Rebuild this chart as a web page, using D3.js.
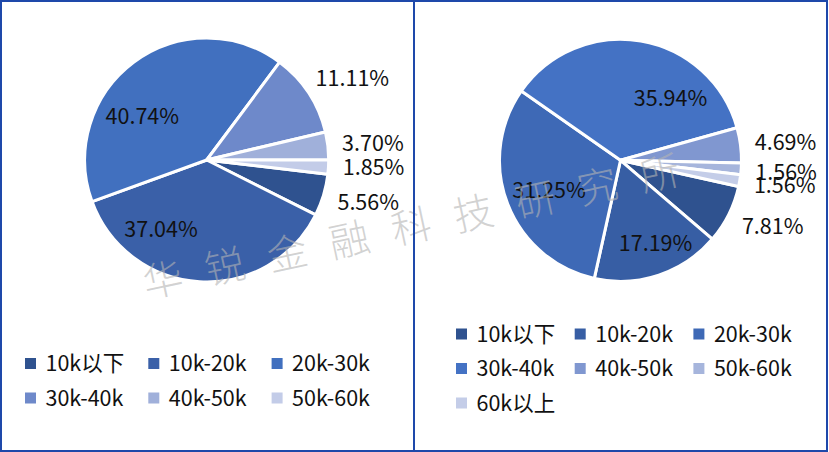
<!DOCTYPE html>
<html>
<head>
<meta charset="utf-8">
<script src="https://cdn.jsdelivr.net/npm/d3@7"></script>
<style>
  html, body { margin: 0; padding: 0; background: #fff; }
  svg { display: block; }
  text { font-family: "Noto Sans CJK SC", "Noto Sans", sans-serif; }
</style>
</head>
<body>
<svg id="chart" width="829" height="452"></svg>
<script>
// ---------- data ----------
const leftCategories = ["10k以下", "10k-20k", "20k-30k", "30k-40k", "40k-50k", "50k-60k"];
const leftValues = [5.56, 37.04, 40.74, 11.11, 3.70, 1.85];
const leftColors = ["#2f528f", "#3a60a8", "#4170bf", "#6e89ca", "#a0b0da", "#c3cce8"];

const rightCategories = ["10k以下", "10k-20k", "20k-30k", "30k-40k", "40k-50k", "50k-60k", "60k以上"];
const rightValues = [7.81, 17.19, 31.25, 35.94, 4.69, 1.56, 1.56];
const rightColors = ["#2f528f", "#375ea4", "#3e69b6", "#4472c4", "#8097d0", "#a6b5dc", "#c4cde8"];

const watermarkChars = ["华", "锐", "金", "融", "科", "技", "研", "究", "所"];

// ---------- layout (styles / placement only) ----------
const svg = d3.select("#chart");
const frameColor = "#1e48aa";

const panels = [
  {
    categories: leftCategories, values: leftValues, colors: leftColors,
    cx: 206.7, cy: 160, r: 122, startDeg: 96.7,
    inside: [false, true, true, false, false, false],
    shiftDeg: [-2, 30, -19, 4, 1, -1],
    insideR: [0, 83, 78, 0, 0, 0],
    legend: { x0: 25, colW: 123.3, y0: 363.5, rowH: 34.5, cols: 3 }
  },
  {
    categories: rightCategories, values: rightValues, colors: rightColors,
    cx: 620.5, cy: 160.3, r: 121, startDeg: 102.5,
    inside: [false, true, true, true, false, false, false],
    shiftDeg: [-3, -4.6, -1.4, 29, 1, 0, -1.2],
    insideR: [0, 89.6, 77.4, 80, 0, 0, 0],
    legend: { x0: 456, colW: 118.7, y0: 334, rowH: 34.5, cols: 3 }
  }
];

const fmt = v => v.toFixed(2) + "%";
const rad = d => d * Math.PI / 180;

panels.forEach(p => {
  const g = svg.append("g").attr("transform", `translate(${p.cx},${p.cy})`);
  const pie = d3.pie().sort(null)
    .startAngle(rad(p.startDeg))
    .endAngle(rad(p.startDeg) + 2 * Math.PI);
  const arcs = pie(p.values);
  const arc = d3.arc().innerRadius(0).outerRadius(p.r);

  g.selectAll("path.slice").data(arcs).join("path")
    .attr("class", "slice")
    .attr("d", arc)
    .attr("fill", (d, i) => p.colors[i])
    .attr("stroke", "#fff")
    .attr("stroke-width", 3)
    .attr("stroke-linejoin", "round");

  g.selectAll("text.lbl").data(arcs).join("text")
    .attr("class", "lbl")
    .attr("transform", (d, i) => {
      const mid = (d.startAngle + d.endAngle) / 2 + rad(p.shiftDeg[i]);
      const rr = p.inside[i] ? p.insideR[i] : p.r + 45;
      return `translate(${rr * Math.sin(mid)},${-rr * Math.cos(mid)})`;
    })
    .attr("text-anchor", "middle")
    .attr("dy", "0.36em")
    .attr("font-size", 21.5)
    .attr("fill", "#111")
    .text(d => fmt(d.data));

  // legend
  const L = p.legend;
  const lg = svg.append("g");
  const items = lg.selectAll("g.item").data(p.categories).join("g")
    .attr("class", "item")
    .attr("transform", (d, i) =>
      `translate(${L.x0 + (i % L.cols) * L.colW},${L.y0 + Math.floor(i / L.cols) * L.rowH})`);
  items.append("rect")
    .attr("x", 0).attr("y", -5.5).attr("width", 11).attr("height", 11)
    .attr("fill", (d, i) => p.colors[i]);
  items.append("text")
    .attr("x", 20.5).attr("dy", "0.36em")
    .attr("font-size", 21.5).attr("fill", "#111")
    .text(d => d);
});

// watermark
const wm = svg.append("g")
  .attr("transform", "translate(163,280) rotate(-12.1)");
wm.selectAll("text").data(watermarkChars).join("text")
  .attr("x", (d, i) => i * 63.5)
  .attr("y", 0)
  .attr("text-anchor", "middle")
  .attr("dy", "0.36em")
  .attr("font-size", 40)
  .attr("font-weight", 300)
  .attr("fill", "#b4b4b4")
  .attr("fill-opacity", 0.6)
  .text(d => d);

// frames
svg.append("rect")
  .attr("x", 1).attr("y", 1).attr("width", 826).attr("height", 450)
  .attr("fill", "none").attr("stroke", frameColor).attr("stroke-width", 2);
svg.append("line")
  .attr("x1", 414).attr("x2", 414).attr("y1", 0).attr("y2", 452)
  .attr("stroke", frameColor).attr("stroke-width", 2);
</script>
</body>
</html>
